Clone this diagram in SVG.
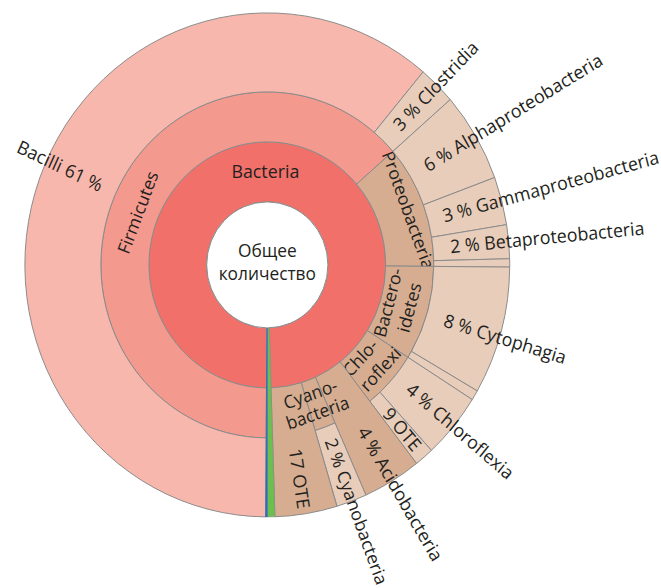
<svg xmlns="http://www.w3.org/2000/svg" width="661" height="588" viewBox="0 0 661 588">
<style>
.s{stroke:#8a8a8a;stroke-width:1;stroke-linejoin:round}
.bac{fill:#f1716a}
.fir{fill:#f4998e}
.bci{fill:#f8b7ac}
.dk{fill:#d6ad90}
.lt{fill:#e8cdba}
.t{font-family:"Open Sans","Noto Sans","DejaVu Sans",sans-serif;font-size:18px;fill:#231f20}
.o{font-size:18.5px}
.m{text-anchor:middle}
</style>
<rect width="661" height="588" fill="#ffffff"/>
<g id="chart" transform="translate(267.3,264.9) scale(0.962,1)">
  <g id="bacteria">
    <path class="s bac" d="M-0.86,123 A123,123 0 1 1 3.86,122.94 L1.98,62.97 A63,63 0 1 0 -0.44,63 Z"/>
    <text class="t m" x="-2" y="-87" style="font-size:18.5px">Bacteria</text>
  </g>
  <g id="firmicutes">
    <path class="s fir" d="M-1.21,173 A173,173 0 1 1 130.56,-113.51 L92.83,-80.70 A123,123 0 1 0 -0.86,123 Z"/>
    <text class="t m" transform="rotate(-68.7) translate(0,-138)">Firmicutes</text>
  </g>
  <g id="bacilli">
    <path class="s bci" d="M-1.76,252 A252,252 0 1 1 161.99,-193.03 L111.20,-132.52 A173,173 0 1 0 -1.21,173 Z"/>
    <text class="t o" transform="rotate(25)" x="-285" y="8">Bacilli 61 %</text>
  </g>
  <g id="clostridia">
    <path class="s lt" d="M161.99,-193.03 A252,252 0 0 1 190.18,-165.34 L130.56,-113.51 A173,173 0 0 0 111.20,-132.52 Z"/>
    <text class="t o" transform="rotate(-45.5)" x="192" y="6">3 % Clostridia</text>
  </g>
  <g id="proteobacteria">
    <path class="s dk" d="M130.56,-113.51 A173,173 0 0 1 172.99,1.51 L123,1.07 A123,123 0 0 0 92.83,-80.70 Z"/>
    <text class="t m" transform="rotate(69.5) translate(0,-150)">Proteobacteria</text>
  </g>
  <g id="alphaproteobacteria">
    <path class="s lt" d="M190.18,-165.34 A252,252 0 0 1 236.35,-87.42 L162.26,-60.01 A173,173 0 0 0 130.56,-113.51 Z"/>
    <text class="t o" transform="rotate(-30.7)" x="191" y="6">6 % Alphaproteobacteria</text>
  </g>
  <g id="gammaproteobacteria">
    <path class="s lt" d="M236.35,-87.42 A252,252 0 0 1 248.75,-40.29 L170.77,-27.66 A173,173 0 0 0 162.26,-60.01 Z"/>
    <text class="t o" transform="rotate(-14.8)" x="189" y="6">3 % Gammaproteobacteria</text>
  </g>
  <g id="betaproteobacteria">
    <path class="s lt" d="M248.75,-40.29 A252,252 0 0 1 251.92,-6.15 L172.95,-4.22 A173,173 0 0 0 170.77,-27.66 Z"/>
    <text class="t o" transform="rotate(-5.3)" x="191" y="6">2 % Betaproteobacteria</text>
  </g>
  <g id="proteobacteria-other">
    <path class="s lt" d="M251.92,-6.15 A252,252 0 0 1 251.99,2.20 L172.99,1.51 A173,173 0 0 0 172.95,-4.22 Z"/>
  </g>
  <g id="bacteroidetes">
    <path class="s dk" d="M172.99,1.51 A173,173 0 0 1 146.24,92.45 L103.97,65.73 A123,123 0 0 0 123,1.07 Z"/>
    <text class="t m" transform="rotate(-75)" x="-4" y="137.6">Bactero-</text>
    <text class="t m" transform="rotate(-75)" x="-3" y="160">idetes</text>
  </g>
  <g id="cytophagia">
    <path class="s lt" d="M251.99,2.20 A252,252 0 0 1 218.23,126 L149.82,86.5 A173,173 0 0 0 172.99,1.51 Z"/>
    <text class="t o" transform="rotate(16.8)" x="192" y="6">8 % Cytophagia</text>
  </g>
  <g id="bacteroidetes-other">
    <path class="s lt" d="M218.23,126 A252,252 0 0 1 213.02,134.67 L146.24,92.45 A173,173 0 0 0 149.82,86.5 Z"/>
  </g>
  <g id="chloroflexi">
    <path class="s dk" d="M146.24,92.45 A173,173 0 0 1 106.52,136.32 L75.73,96.92 A123,123 0 0 0 103.97,65.73 Z"/>
    <text class="t m" transform="rotate(-47)" x="-2" y="140.5">Chlo-</text>
    <text class="t m" transform="rotate(-47)" x="4" y="163.5">roflexi</text>
  </g>
  <g id="chloroflexia">
    <path class="s lt" d="M213.02,134.67 A252,252 0 0 1 170.58,185.50 L117.10,127.35 A173,173 0 0 0 146.24,92.45 Z"/>
    <text class="t o" transform="rotate(39.8)" x="191" y="6">4 % Chloroflexia</text>
  </g>
  <g id="ote9">
    <path class="s lt" d="M170.58,185.50 A252,252 0 0 1 155.16,198.58 L106.52,136.32 A173,173 0 0 0 117.10,127.35 Z"/>
    <text class="t o" transform="rotate(49.7)" x="191" y="6">9 OTE</text>
  </g>
  <g id="acidobacteria">
    <path class="s dk" d="M155.16,198.58 A252,252 0 0 1 102.49,230.20 L50.02,112.36 A123,123 0 0 0 75.73,96.92 Z"/>
    <text class="t o" transform="rotate(59)" x="191" y="6">4 % Acidobacteria</text>
  </g>
  <g id="cyanobacteria-phylum">
    <path class="s dk" d="M70.36,158.04 A173,173 0 0 1 49.72,165.70 L35.35,117.81 A123,123 0 0 0 50.02,112.36 Z"/>
  </g>
  <g id="cyanobacteria-class">
    <path class="s lt" d="M102.49,230.20 A252,252 0 0 1 72.42,241.37 L49.72,165.70 A173,173 0 0 0 70.36,158.04 Z"/>
    <text class="t" transform="rotate(69.5)" x="186" y="6">2 % Cyanobacteria</text>
  </g>
  <g id="ote17">
    <path class="s dk" d="M72.42,241.37 A252,252 0 0 1 7.92,251.88 L3.86,122.94 A123,123 0 0 0 35.35,117.81 Z"/>
    <text class="t o" transform="rotate(81.3)" x="186" y="6">17 OTE</text>
  </g>
  <g id="cyanobacteria-label">
    <text class="t m" transform="rotate(-19.3)" x="-0.5" y="143.2">Cyano-</text>
    <text class="t m" transform="rotate(-19.3)" x="0.5" y="163.3">bacteria</text>
  </g>
  <g id="green-group">
    <path d="M7.92,251.88 A252,252 0 0 1 0,252 L0,63 A63,63 0 0 0 1.98,62.97 Z" fill="#6bbf4e" stroke="#8a8a8a" stroke-width="0.6"/>
  </g>
  <g id="blue-group">
    <path d="M0,252 A252,252 0 0 1 -1.76,252 L-0.44,63 A63,63 0 0 0 0,63 Z" fill="#2e6db4" stroke="#2e6db4" stroke-width="0.6"/>
  </g>
  <g id="total">
    <circle class="s" r="63" fill="#ffffff"/>
    <text class="t m" x="0" y="-8">Общее</text>
    <text class="t m" x="0" y="15">количество</text>
  </g>
</g>
<g id="connectors"/>
</svg>
